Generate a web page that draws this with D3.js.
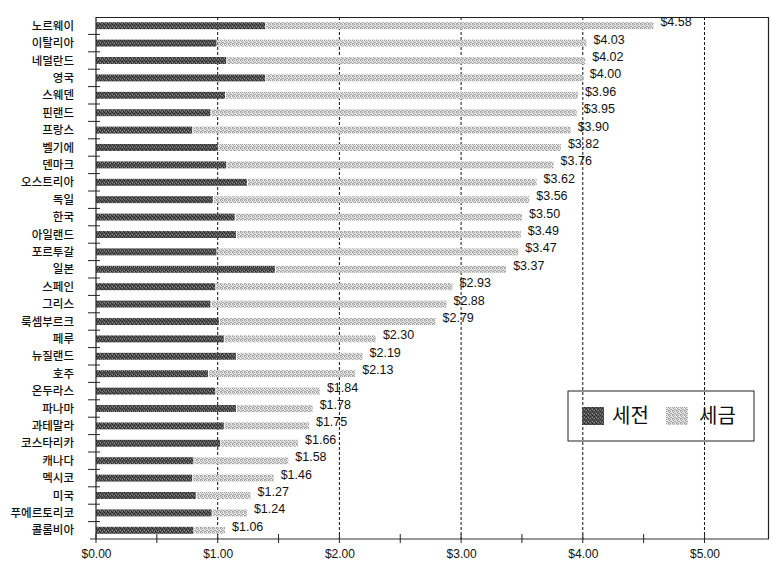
<!DOCTYPE html>
<html>
<head>
<meta charset="utf-8">
<script src="https://cdn.jsdelivr.net/npm/d3@7"></script>
<style>
  html, body { margin: 0; padding: 0; background: #fff; }
  svg { display: block; }
</style>
</head>
<body>
<svg id="chart" width="771" height="567"></svg>
<script>
// Countries, top to bottom
const countries = ["노르웨이","이탈리아","네덜란드","영국","스웨덴","핀랜드","프랑스","벨기에","덴마크","오스트리아",
  "독일","한국","아일랜드","포르투갈","일본","스페인","그리스","룩셈부르크","페루","뉴질랜드",
  "호주","온두라스","파나마","과테말라","코스타리카","캐나다","멕시코","미국","푸에르토리코","콜롬비아"];

// Price before tax (세전)
const preTax = [1.39,0.99,1.07,1.39,1.06,0.94,0.79,1.00,1.07,1.24,
  0.96,1.14,1.15,0.99,1.47,0.98,0.94,1.01,1.05,1.15,
  0.92,0.98,1.15,1.05,1.02,0.80,0.79,0.82,0.95,0.80];

// Total price (세전 + 세금), as labelled
const totals = [4.58,4.03,4.02,4.00,3.96,3.95,3.90,3.82,3.76,3.62,
  3.56,3.50,3.49,3.47,3.37,2.93,2.88,2.79,2.30,2.19,
  2.13,1.84,1.78,1.75,1.66,1.58,1.46,1.27,1.24,1.06];

const seriesNames = ["세전", "세금"];
const xTicks = [0, 1, 2, 3, 4, 5];
const xMinorTicks = [0.5, 1.5, 2.5, 3.5, 4.5];

const rows = countries.map((c, i) => ({
  country: c,
  pre: preTax[i],
  tax: +(totals[i] - preTax[i]).toFixed(2),
  total: totals[i]
}));

const svg = d3.select("#chart");
const plotL = 96, plotR = 769, plotT = 17, plotB = 539;

const x = d3.scaleLinear().domain([0, 5.53]).range([plotL, plotR]);
const y = d3.scaleBand().domain(countries).range([plotT, plotB])
  .paddingInner(0.6).paddingOuter(0.3);
const step = y.step();

// Fill textures for the two series
const defs = svg.append("defs");
const pDark = defs.append("pattern").attr("id", "texDark")
  .attr("width", 4).attr("height", 4).attr("patternUnits", "userSpaceOnUse");
pDark.append("rect").attr("width", 4).attr("height", 4).attr("fill", "#575757");
[[0,0],[2,1],[1,2],[3,3]].forEach(([a,b]) =>
  pDark.append("rect").attr("x", a).attr("y", b).attr("width", 1).attr("height", 1).attr("fill", "#262626"));
[[2,3],[0,2]].forEach(([a,b]) =>
  pDark.append("rect").attr("x", a).attr("y", b).attr("width", 1).attr("height", 1).attr("fill", "#8a8a8a"));

const pLight = defs.append("pattern").attr("id", "texLight")
  .attr("width", 4).attr("height", 4).attr("patternUnits", "userSpaceOnUse");
pLight.append("rect").attr("width", 4).attr("height", 4).attr("fill", "#e4e4e4");
[[0,0],[2,0],[1,1],[3,2],[0,3],[2,2],[1,3]].forEach(([a,b]) =>
  pLight.append("rect").attr("x", a).attr("y", b).attr("width", 1).attr("height", 1).attr("fill", "#a4a4a4"));

// Dashed gridlines at whole dollars
svg.append("g").selectAll("line").data(xTicks.filter(d => d > 0)).join("line")
  .attr("x1", d => x(d)).attr("x2", d => x(d))
  .attr("y1", plotT).attr("y2", plotB)
  .attr("stroke", "#111").attr("stroke-width", 1).attr("stroke-dasharray", "3,2");

// Frame: top and right edges
svg.append("line").attr("x1", plotL).attr("x2", plotR).attr("y1", plotT + 0.5).attr("y2", plotT + 0.5)
  .attr("stroke", "#222").attr("stroke-width", 1.2);
svg.append("line").attr("x1", plotR - 0.5).attr("x2", plotR - 0.5).attr("y1", plotT).attr("y2", plotB)
  .attr("stroke", "#222").attr("stroke-width", 1.2);

// Bars
const bars = svg.append("g");
bars.selectAll("rect.pre").data(rows).join("rect").attr("class", "pre")
  .attr("x", x(0)).attr("y", d => y(d.country))
  .attr("width", d => x(d.pre) - x(0)).attr("height", y.bandwidth())
  .attr("fill", "url(#texDark)");
bars.selectAll("rect.tax").data(rows).join("rect").attr("class", "tax")
  .attr("x", d => x(d.pre) + 1).attr("y", d => y(d.country))
  .attr("width", d => x(d.total) - x(d.pre) - 1).attr("height", y.bandwidth())
  .attr("fill", "url(#texLight)");

// Total labels
svg.append("g").selectAll("text").data(rows).join("text")
  .attr("x", d => x(d.total) + 7)
  .attr("y", d => y(d.country) + y.bandwidth() / 2 + 0.5)
  .attr("font-family", "'Liberation Sans', Arial, sans-serif")
  .attr("font-size", 12.5).attr("fill", "#111")
  .text(d => "$" + d3.format(".2f")(d.total));

// Y axis
const yAxis = svg.append("g").attr("transform", `translate(${plotL},0)`);
yAxis.append("line").attr("x1", 0).attr("x2", 0).attr("y1", plotT).attr("y2", plotB)
  .attr("stroke", "#222").attr("stroke-width", 1.2);
const boundaries = d3.range(1, countries.length).map(i => plotT + i * step);
yAxis.selectAll("line.tk").data(boundaries).join("line").attr("class", "tk")
  .attr("x1", -8).attr("x2", 4).attr("y1", d => d).attr("y2", d => d)
  .attr("stroke", "#222").attr("stroke-width", 1);
yAxis.selectAll("text").data(countries).join("text")
  .attr("x", 74 - plotL).attr("y", d => y(d) + y.bandwidth() / 2)
  .attr("dy", "0.36em").attr("text-anchor", "end")
  .attr("font-family", "'Noto Sans CJK KR', sans-serif")
  .attr("font-size", 11.5).attr("font-weight", 500).attr("fill", "#111")
  .text(d => d);

// X axis
const xAxis = d3.axisBottom(x).tickValues(xTicks)
  .tickFormat(d => "$" + d3.format(".2f")(d)).tickSize(0).tickPadding(10);
const gx = svg.append("g").attr("transform", `translate(0,${plotB})`).call(xAxis);
gx.select(".domain").remove();
gx.selectAll("text").attr("font-family", "'Liberation Sans', Arial, sans-serif")
  .attr("font-size", 12).attr("fill", "#111");
gx.append("line").attr("x1", 90).attr("x2", plotR).attr("y1", 0).attr("y2", 0)
  .attr("stroke", "#333").attr("stroke-width", 1.2);
gx.selectAll("line.tk").data(xTicks.concat(xMinorTicks)).join("line").attr("class", "tk")
  .attr("x1", d => x(d)).attr("x2", d => x(d)).attr("y1", -5).attr("y2", 4)
  .attr("stroke", "#222").attr("stroke-width", 1);

// Legend
const lg = svg.append("g").attr("transform", "translate(568,391)");
lg.append("rect").attr("width", 186).attr("height", 50)
  .attr("fill", "none").attr("stroke", "#222").attr("stroke-width", 1);
const items = [
  { name: seriesNames[0], fill: "url(#texDark)", sx: 14, tx: 44 },
  { name: seriesNames[1], fill: "url(#texLight)", sx: 98, tx: 131 }
];
items.forEach(it => {
  lg.append("rect").attr("x", it.sx).attr("y", 16).attr("width", 22).attr("height", 18)
    .attr("fill", it.fill);
  lg.append("text").attr("x", it.tx).attr("y", 25).attr("dy", "0.36em")
    .attr("font-family", "'Noto Sans CJK KR', sans-serif").attr("font-size", 20)
    .attr("fill", "#111").text(it.name);
});
</script>
</body>
</html>
